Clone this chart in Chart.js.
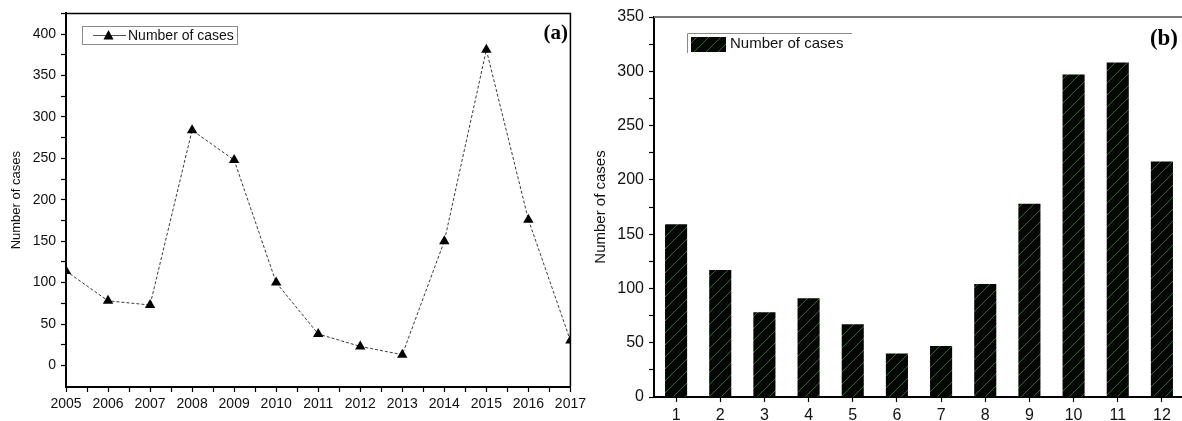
<!DOCTYPE html>
<html>
<head>
<meta charset="utf-8">
<script src="https://cdn.jsdelivr.net/npm/chart.js@4.4.1/dist/chart.umd.min.js"></script>
<style>
  body { margin: 0; width: 1182px; height: 421px; overflow: hidden; background: #fff; position: relative; }
  #panelA { position: absolute; left: 0; top: 0; }
  #panelB { position: absolute; left: 590px; top: 0; }
</style>
</head>
<body>
<canvas id="panelA" width="590" height="421"></canvas>
<canvas id="panelB" width="620" height="421"></canvas>
<script>
// panel (a): cases per year
var years = [2005, 2006, 2007, 2008, 2009, 2010, 2011, 2012, 2013, 2014, 2015, 2016, 2017];
var yearlyCases = [114, 78, 73, 284, 248, 100, 38, 23, 13, 150, 381, 176, 30];
var yearTicksA = [0, 25, 50, 75, 100, 125, 150, 175, 200, 225, 250, 275, 300, 325, 350, 375, 400, 425];

// panel (b): cases per month
var months = ['1', '2', '3', '4', '5', '6', '7', '8', '9', '10', '11', '12'];
var monthlyCases = [159, 117, 78, 91, 67, 40, 47, 104, 178, 297, 308, 217];
var yTicksB = [0, 25, 50, 75, 100, 125, 150, 175, 200, 225, 250, 275, 300, 325, 350];

Chart.defaults.font.family = '"Liberation Sans", Arial, sans-serif';
Chart.defaults.color = '#111';
Chart.defaults.animation = false;

// black bars with thin green diagonal hatching
function hatchPattern() {
    var s = 12;
    var c = document.createElement('canvas');
    c.width = s; c.height = s;
    var g = c.getContext('2d');
    g.fillStyle = '#050505';
    g.fillRect(0, 0, s, s);
    g.strokeStyle = '#2f7a2a';
    g.lineWidth = 0.9;
    g.beginPath();
    g.moveTo(0, s); g.lineTo(s, 0);
    g.moveTo(-1, 1); g.lineTo(1, -1);
    g.moveTo(s - 1, s + 1); g.lineTo(s + 1, s - 1);
    g.stroke();
    return g.createPattern(c, 'repeat');
}
var hatch = hatchPattern();

var decorA = {
    id: 'decorA',
    afterDraw: function (chart) {
        var ctx = chart.ctx, a = chart.chartArea;
        ctx.save();
        // top + right frame
        ctx.strokeStyle = '#000';
        ctx.lineWidth = 1.5;
        ctx.beginPath();
        ctx.moveTo(a.left, a.top); ctx.lineTo(a.right, a.top); ctx.lineTo(a.right, a.bottom);
        ctx.stroke();
        // legend
        ctx.strokeStyle = '#8a8a8a';
        ctx.lineWidth = 1;
        ctx.strokeRect(82.5, 26.5, 155, 18);
        ctx.strokeStyle = '#555';
        ctx.beginPath(); ctx.moveTo(93, 35.5); ctx.lineTo(126, 35.5); ctx.stroke();
        ctx.fillStyle = '#000';
        ctx.beginPath(); ctx.moveTo(108.5, 30); ctx.lineTo(113.5, 39.5); ctx.lineTo(103.5, 39.5); ctx.closePath(); ctx.fill();
        ctx.font = '14px "Liberation Sans", Arial';
        ctx.textBaseline = 'middle';
        ctx.fillStyle = '#111';
        ctx.fillText(chart.data.datasets[0].label, 128, 36);
        // panel label
        ctx.font = 'bold 21px "Liberation Serif", "Times New Roman", serif';
        ctx.textAlign = 'right';
        ctx.fillStyle = '#000';
        ctx.fillText('(a)', 568, 34);
        ctx.restore();
    }
};

var decorB = {
    id: 'decorB',
    afterDraw: function (chart) {
        var ctx = chart.ctx, a = chart.chartArea;
        ctx.save();
        ctx.strokeStyle = '#777';
        ctx.lineWidth = 2;
        ctx.beginPath(); ctx.moveTo(a.left, a.top); ctx.lineTo(a.right, a.top); ctx.stroke();
        // legend (only top and left edges show)
        ctx.strokeStyle = '#8a8a8a';
        ctx.lineWidth = 1;
        ctx.beginPath();
        ctx.moveTo(97.5, 53); ctx.lineTo(97.5, 33.5); ctx.lineTo(262, 33.5);
        ctx.stroke();
        ctx.fillStyle = chart.data.datasets[0].backgroundColor;
        ctx.fillRect(101, 37, 35, 15);
        ctx.font = '15px "Liberation Sans", Arial';
        ctx.textBaseline = 'middle';
        ctx.fillStyle = '#111';
        ctx.fillText(chart.data.datasets[0].label, 140, 44);
        ctx.font = 'bold 23px "Liberation Serif", "Times New Roman", serif';
        ctx.textAlign = 'right';
        ctx.fillStyle = '#000';
        ctx.fillText('(b)', 588, 39);
        ctx.restore();
    }
};

new Chart(document.getElementById('panelA'), {
    type: 'line',
    data: {
        datasets: [{
            label: 'Number of cases',
            data: years.map(function (y, i) { return { x: y, y: yearlyCases[i] }; }),
            borderColor: '#3a3a3a',
            borderWidth: 1,
            borderDash: [3, 2],
            tension: 0,
            pointStyle: 'triangle',
            pointRadius: 6,
            pointBackgroundColor: '#000',
            pointBorderColor: '#000',
            pointBorderWidth: 0
        }]
    },
    options: {
        responsive: false,
        layout: { padding: { top: 10, right: 14, left: 0, bottom: 0 } },
        plugins: { legend: { display: false }, tooltip: { enabled: false } },
        scales: {
            x: {
                type: 'linear',
                min: 2005,
                max: 2017,
                afterBuildTicks: function (axis) {
                    var t = [];
                    for (var v = 2005; v <= 2017; v += 0.5) t.push({ value: v });
                    axis.ticks = t;
                },
                afterFit: function (axis) { axis.height = 34; },
                ticks: {
                    autoSkip: false,
                    maxRotation: 0,
                    padding: 4,
                    font: { size: 14 },
                    callback: function (v) { return v % 1 === 0 ? String(v) : ''; }
                },
                grid: { drawOnChartArea: false, tickLength: 5, tickColor: '#000', tickWidth: 1.2 },
                border: { color: '#000', width: 2 }
            },
            y: {
                min: -26,
                max: 425,
                afterBuildTicks: function (axis) {
                    axis.ticks = yearTicksA.map(function (v) { return { value: v }; });
                },
                afterFit: function (axis) { axis.width = 66; },
                ticks: {
                    autoSkip: false,
                    padding: 5,
                    font: { size: 14 },
                    callback: function (v) { return v % 50 === 0 ? String(v) : ''; }
                },
                grid: { drawOnChartArea: false, tickLength: 5, tickColor: '#000', tickWidth: 1.2 },
                border: { color: '#000', width: 2 },
                title: { display: true, text: 'Number of cases', font: { size: 13 }, padding: { top: 9, bottom: 0 } }
            }
        }
    },
    plugins: [decorA]
});

new Chart(document.getElementById('panelB'), {
    type: 'bar',
    data: {
        labels: months,
        datasets: [{
            label: 'Number of cases',
            data: monthlyCases,
            backgroundColor: hatch,
            borderWidth: 0,
            categoryPercentage: 1,
            barPercentage: 0.5
        }]
    },
    options: {
        responsive: false,
        layout: { padding: { top: 17, right: 26, left: 0, bottom: 0 } },
        plugins: { legend: { display: false }, tooltip: { enabled: false } },
        scales: {
            x: {
                offset: true,
                afterFit: function (axis) { axis.height = 24; },
                ticks: { maxRotation: 0, padding: 4, font: { size: 16 } },
                grid: { offset: false, drawOnChartArea: false, tickLength: 5, tickColor: '#000', tickWidth: 1.2 },
                border: { color: '#000', width: 2 }
            },
            y: {
                min: 0,
                max: 350,
                afterBuildTicks: function (axis) {
                    axis.ticks = yTicksB.map(function (v) { return { value: v }; });
                },
                afterFit: function (axis) { axis.width = 64; },
                ticks: {
                    autoSkip: false,
                    padding: 5,
                    font: { size: 16 },
                    callback: function (v) { return v % 50 === 0 ? String(v) : ''; }
                },
                grid: { drawOnChartArea: false, tickLength: 5, tickColor: '#000', tickWidth: 1.2 },
                border: { color: '#000', width: 2 },
                title: { display: true, text: 'Number of cases', font: { size: 15 }, padding: { top: 2, bottom: 0 } }
            }
        }
    },
    plugins: [decorB]
});
</script>
</body>
</html>
